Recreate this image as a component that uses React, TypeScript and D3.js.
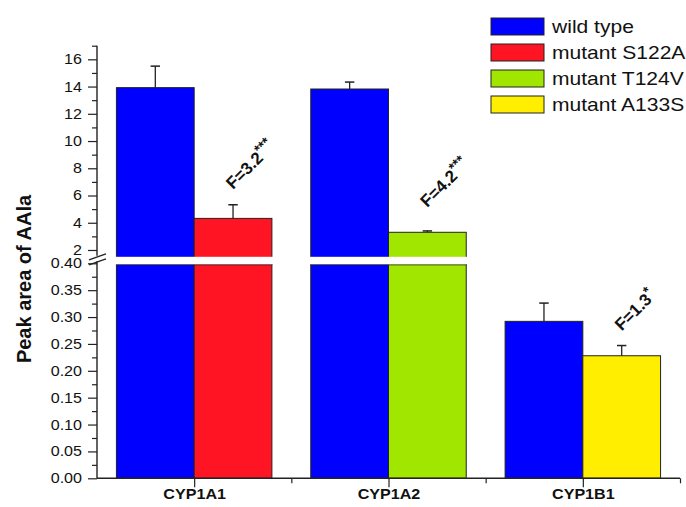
import React, { useEffect, useRef } from 'react';
import * as d3 from 'd3';

// data
const categories = ['CYP1A1', 'CYP1A2', 'CYP1B1'];
const wildType = [13.92, 13.82, 0.292];
const wildErr = [1.58, 0.51, 0.034];
const mutant = [4.32, 3.3, 0.228];
const mutantErr = [1.0, 0.1, 0.019];
const mutantNames = ['mutant S122A', 'mutant T124V', 'mutant A133S'];
const mutantColors = ['#ff1424', '#a0e600', '#ffee00'];
const wildColor = '#0000ff';
const annotations = ['F=3.2', 'F=4.2', 'F=1.3'];
const annotationStars = ['***', '***', '*'];
const annotationAt = [6.4, 5.08, 0.273];

const upperMajor = [2, 4, 6, 8, 10, 12, 14, 16];
const upperMinor = [3, 5, 7, 9, 11, 13, 15, 17];
const lowerMajor = [0, 0.05, 0.1, 0.15, 0.2, 0.25, 0.3, 0.35, 0.4];
const lowerMinor = [0.025, 0.075, 0.125, 0.175, 0.225, 0.275, 0.325, 0.375];

const width = 686;
const height = 507;
const SX = 1.15; // text in the source is a bit wide

const App: React.FC = () => {
  const svgRef = useRef<SVGSVGElement>(null);

  useEffect(() => {
    if (!svgRef.current) return;
    const svg = d3.select(svgRef.current);
    svg.selectAll('*').remove();

    const axisColor = '#222';
    const font = 'Arial, "Liberation Sans", sans-serif';

    const x = d3.scaleLinear().domain([0.5, 3.5]).range([97, 680]);
    const yUp = d3.scaleLinear().domain([1.5, 17]).range([256.8, 45.7]);
    const yLow = d3.scaleLinear().domain([0, 0.4]).range([478.3, 263.3]);
    const barW = x(0.4) - x(0);
    const yOf = (v: number) => (v > 0.4 ? yUp(v) : yLow(v));

    const bars = categories.flatMap((c, i) => [
      { i, off: -1, v: wildType[i], e: wildErr[i], color: wildColor },
      { i, off: 0, v: mutant[i], e: mutantErr[i], color: mutantColors[i] },
    ]);

    const g = svg.append('g');

    // lower segment of each bar
    g.selectAll('rect.low')
      .data(bars)
      .enter()
      .append('rect')
      .attr('x', (d) => x(d.i + 1) + d.off * barW)
      .attr('y', (d) => yLow(Math.min(d.v, 0.4)))
      .attr('width', barW)
      .attr('height', (d) => yLow(0) - yLow(Math.min(d.v, 0.4)))
      .attr('fill', (d) => d.color)
      .attr('stroke', axisColor)
      .attr('stroke-width', 1);

    // upper segment for the tall bars
    g.selectAll('rect.up')
      .data(bars.filter((d) => d.v > 0.4))
      .enter()
      .append('rect')
      .attr('x', (d) => x(d.i + 1) + d.off * barW)
      .attr('y', (d) => yUp(d.v))
      .attr('width', barW)
      .attr('height', (d) => yUp(1.5) - yUp(d.v) + 8)
      .attr('fill', (d) => d.color)
      .attr('stroke', axisColor)
      .attr('stroke-width', 1);

    // white gap of the axis break
    g.append('rect')
      .attr('x', x(0.5) + 4)
      .attr('y', yUp(1.5))
      .attr('width', x(3.5) - x(0.5))
      .attr('height', yLow(0.4) - yUp(1.5) + 1)
      .attr('fill', '#fff');

    // error bars (upper only)
    const eb = g.selectAll('g.err').data(bars).enter().append('g');
    eb.append('line')
      .attr('x1', (d) => x(d.i + 1) + d.off * barW + barW / 2)
      .attr('x2', (d) => x(d.i + 1) + d.off * barW + barW / 2)
      .attr('y1', (d) => yOf(d.v))
      .attr('y2', (d) => yOf(d.v + d.e))
      .attr('stroke', axisColor)
      .attr('stroke-width', 1.3);
    eb.append('line')
      .attr('x1', (d) => x(d.i + 1) + d.off * barW + barW / 2 - 4.7)
      .attr('x2', (d) => x(d.i + 1) + d.off * barW + barW / 2 + 4.7)
      .attr('y1', (d) => yOf(d.v + d.e))
      .attr('y2', (d) => yOf(d.v + d.e))
      .attr('stroke', axisColor)
      .attr('stroke-width', 1.5);

    // y axes
    const styleAxis = (sel: d3.Selection<SVGGElement, unknown, null, undefined>) => {
      sel.select('.domain').remove();
      sel.selectAll('line').attr('stroke', axisColor).attr('stroke-width', 1.2);
      sel.selectAll('text')
        .attr('fill', '#111')
        .style('font-family', font)
        .style('font-size', '14px')
        .attr('x', -15 / SX)
        .attr('transform', `scale(${SX},1)`);
    };

    const yAxisG = svg.append('g').attr('transform', `translate(${x(0.5)},0)`);
    yAxisG.append('g')
      .call(d3.axisLeft(yUp).tickValues(upperMajor).tickSize(9).tickSizeOuter(0).tickFormat(d3.format('d')))
      .call(styleAxis);
    yAxisG.append('g')
      .call(d3.axisLeft(yUp).tickValues(upperMinor).tickSize(5).tickSizeOuter(0).tickFormat(() => ''))
      .call(styleAxis);
    yAxisG.append('g')
      .call(d3.axisLeft(yLow).tickValues(lowerMajor).tickSize(9).tickSizeOuter(0).tickFormat(d3.format('.2f')))
      .call(styleAxis);
    yAxisG.append('g')
      .call(d3.axisLeft(yLow).tickValues(lowerMinor).tickSize(5).tickSizeOuter(0).tickFormat(() => ''))
      .call(styleAxis);
    yAxisG.append('line').attr('y1', yUp(17)).attr('y2', yUp(1.5) - 1).attr('stroke', axisColor).attr('stroke-width', 1.4);
    yAxisG.append('line').attr('y1', yLow(0.4) - 2).attr('y2', yLow(0)).attr('stroke', axisColor).attr('stroke-width', 1.4);
    // break marks
    [0, 5].forEach((dy) => {
      yAxisG.append('line')
        .attr('x1', -8).attr('y1', yUp(1.5) + 3 + dy)
        .attr('x2', 9).attr('y2', yUp(1.5) - 3 + dy)
        .attr('stroke', axisColor).attr('stroke-width', 1.3);
    });

    // x axis
    const xAxisG = svg.append('g').attr('transform', `translate(0,${yLow(0)})`);
    xAxisG.append('g')
      .call(d3.axisBottom(x).tickValues([1, 2, 3]).tickSize(9).tickSizeOuter(0).tickPadding(2)
        .tickFormat((d) => categories[(d as number) - 1]))
      .call((sel) => {
        sel.select('.domain').remove();
        sel.selectAll('line').attr('stroke', axisColor).attr('stroke-width', 1.2);
        sel.selectAll('text')
          .attr('fill', '#111')
          .style('font-family', font)
          .style('font-size', '14px')
          .style('font-weight', 'bold')
          .attr('transform', `scale(${SX},1)`);
      });
    xAxisG.append('g')
      .call(d3.axisBottom(x).tickValues([1.5, 2.5, 3.5]).tickSize(5).tickSizeOuter(0).tickFormat(() => ''))
      .call((sel) => {
        sel.select('.domain').remove();
        sel.selectAll('line').attr('stroke', axisColor).attr('stroke-width', 1.2);
      });
    xAxisG.append('line').attr('x1', x(0.5)).attr('x2', x(3.5)).attr('stroke', axisColor).attr('stroke-width', 1.4);

    // y title
    svg.append('text')
      .attr('transform', 'translate(31,279) rotate(-90)')
      .attr('text-anchor', 'middle')
      .style('font-family', font)
      .style('font-size', '20px')
      .style('font-weight', 'bold')
      .attr('fill', '#111')
      .text('Peak area of AAla');

    // F annotations
    annotations.forEach((a, i) => {
      const cx = x(i + 1) + barW / 2;
      const cy = yOf(annotationAt[i]);
      const t = svg.append('text')
        .attr('transform', `translate(${cx},${cy}) rotate(-45)`)
        .style('font-family', font)
        .style('font-size', '17px')
        .style('font-weight', 'bold')
        .attr('fill', '#111');
      t.append('tspan').text(a);
      t.append('tspan').attr('dy', -6).style('font-size', '14px').text(annotationStars[i]);
    });

    // legend
    const legendNames = ['wild type', ...mutantNames];
    const legendColors = [wildColor, ...mutantColors];
    const lg = svg.append('g').attr('transform', 'translate(491,18)');
    legendNames.forEach((n, i) => {
      lg.append('rect')
        .attr('x', 0).attr('y', i * 26)
        .attr('width', 53).attr('height', 17)
        .attr('fill', legendColors[i])
        .attr('stroke', axisColor).attr('stroke-width', 1);
      lg.append('text')
        .attr('transform', `translate(61,${i * 26 + 15}) scale(1.17,1)`)
        .style('font-family', font)
        .style('font-size', '18px')
        .attr('fill', '#111')
        .text(n);
    });
  }, []);

  return (
    <svg
      ref={svgRef}
      width={width}
      height={height}
      style={{ position: 'absolute', left: 0, top: 0, background: '#fff' }}
    />
  );
};

export default App;
